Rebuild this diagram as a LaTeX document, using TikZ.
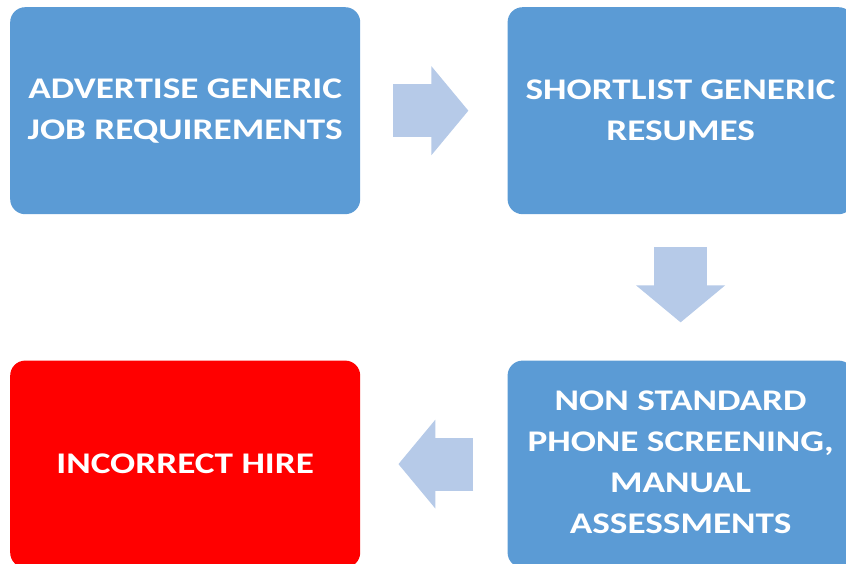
\documentclass[tikz,border=0pt]{standalone}
\usepackage{fontspec}
\setmainfont{Carlito}[FakeStretch=1.24]
\usetikzlibrary{positioning,arrows.meta}

\definecolor{stageblue}{RGB}{91,155,213}
\definecolor{flowblue}{RGB}{182,202,232}
\definecolor{hirered}{RGB}{255,0,0}

\begin{document}
\begin{tikzpicture}[x=1pt, y=-1pt,
% Box style
		stage/.style={rectangle
							    , rounded corners=15pt
							    , fill=stageblue
							    , draw=none
							    , text=white
							    , font=\bfseries\fontsize{30}{41}\selectfont
							    , align=center
							    , minimum width=350pt
							    , minimum height=207pt
							    , inner sep=0pt},
		badhire/.style={stage
							    , fill=hirered},
% Block arrow style
		flow/.style={draw=flowblue
							    , line width=53pt
							    , -{Triangle[length=37pt,width=87pt]}},
		node distance=147pt
	]
	\useasboundingbox (0,0) rectangle (846,564);
%% Draw stages
	\node [stage, anchor=north west] (advert) at (10,7) {ADVERTISE GENERIC\\JOB REQUIREMENTS};
	\node [stage, minimum width=346pt, right=of advert] (shortlist) {SHORTLIST GENERIC\\RESUMES};
	\node [stage, minimum width=346pt, below=146pt of shortlist] (screening) {NON STANDARD\\PHONE SCREENING,\\MANUAL\\ASSESSMENTS\rule[-3pt]{0pt}{0pt}};
	\node [badhire, left=of screening] (hire) {INCORRECT HIRE};
%% Draw block arrows
	\draw [flow, shorten <=33pt, shorten >=39pt] (advert) -- (shortlist);
	\draw [flow, shorten <=33pt, shorten >=38pt] (shortlist) -- (screening);
	\draw [flow, shorten <=34pt, shorten >=38pt] (screening) -- (hire);
\end{tikzpicture}
\end{document}
